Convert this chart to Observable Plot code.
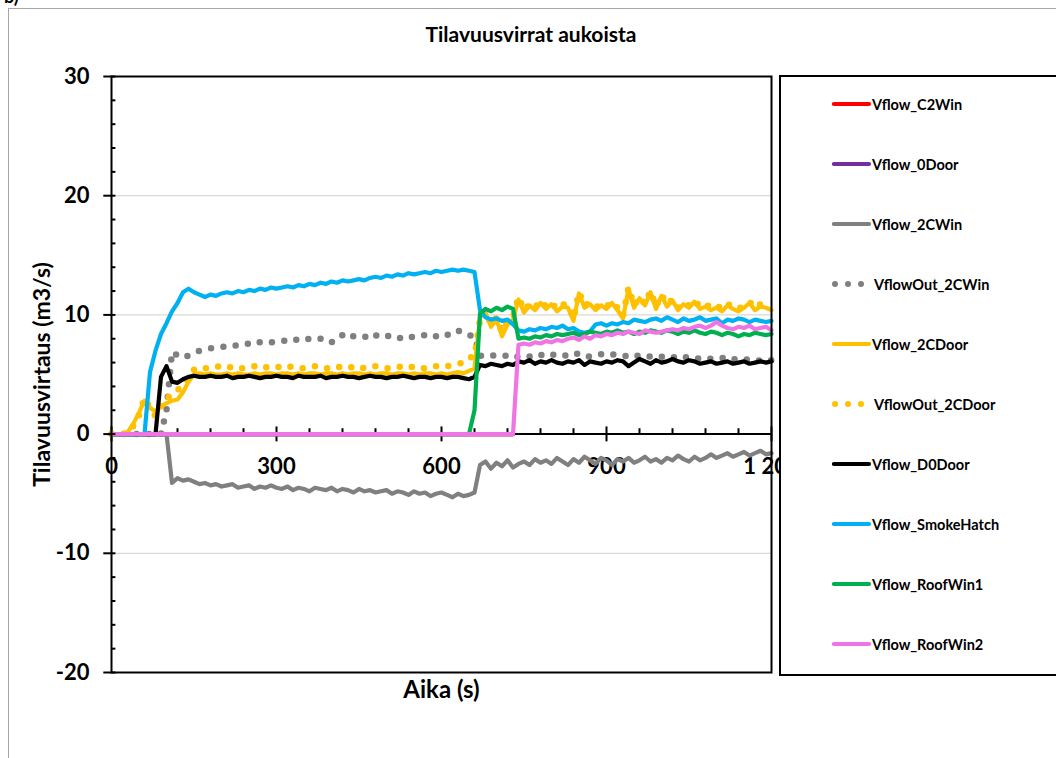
<!DOCTYPE html>
<html><head><meta charset="utf-8">
<script src="https://cdn.jsdelivr.net/npm/d3@7"></script>
<script src="https://cdn.jsdelivr.net/npm/@observablehq/plot@0.6"></script>
<style>
html,body{margin:0;padding:0;background:#fff;}
body{width:1056px;height:758px;overflow:hidden;position:relative;font-family:Lato,"Open Sans",sans-serif;}
#frame{position:absolute;left:8px;top:8px;width:1100px;height:800px;border:1px solid #a6a6a6;}
#tag{position:absolute;left:4px;top:-13px;font-size:18px;font-weight:bold;line-height:18px;}
#title{position:absolute;left:0;width:1062px;top:21px;text-align:center;font-weight:bold;font-size:21px;color:#000;}
#chart{position:absolute;left:0;top:60px;}
#legend{position:absolute;left:779px;top:75px;width:300px;height:601px;box-sizing:border-box;border:2px solid #000;background:#fff;}
.item{position:absolute;left:51px;height:20px;display:flex;align-items:center;font-weight:bold;font-size:14.5px;color:#000;white-space:nowrap;}
.item svg{display:block;}
</style></head><body>
<div id="frame"></div>
<div id="tag">b)</div>
<div id="title">Tilavuusvirrat aukoista</div>
<div id="chart"></div>
<div id="legend"></div>
<script>
// ---- data ----
const time = [0,10,20,30,40,50,60,70,80,90,
 100,110,120,130,140,150,160,170,180,190,
 200,210,220,230,240,250,260,270,280,290,
 300,310,320,330,340,350,360,370,380,390,
 400,410,420,430,440,450,460,470,480,490,
 500,510,520,530,540,550,560,570,580,590,
 600,610,620,630,640,650,660,670,680,690,
 700,710,720,730,740,750,760,770,780,790,
 800,810,820,830,840,850,860,870,880,890,
 900,910,920,930,940,950,960,970,980,990,
 1000,1010,1020,1030,1040,1050,1060,1070,1080,1090,
 1100,1110,1120,1130,1140,1150,1160,1170,1180,1190,
 1200];
const timeZero = [0, 730];

const vC2Win = [0, 0];
const v0Door = [0, 0];
const v2CWin = [0,0,0,0,0,0,0,0,0,0,
 0,-4.1,-3.7,-3.9,-3.8,-4.0,-4.2,-4.1,-4.3,-4.2,
 -4.4,-4.3,-4.2,-4.5,-4.4,-4.3,-4.6,-4.4,-4.5,-4.3,
 -4.5,-4.6,-4.4,-4.7,-4.5,-4.6,-4.8,-4.5,-4.6,-4.7,
 -4.5,-4.8,-4.6,-4.7,-4.9,-4.6,-4.8,-4.7,-4.9,-4.8,
 -4.7,-5.0,-4.8,-4.9,-5.1,-4.8,-5.0,-4.9,-5.2,-5.0,
 -4.9,-5.1,-5.3,-5.0,-5.2,-5.1,-4.9,-2.6,-2.3,-2.9,
 -2.4,-2.7,-2.2,-2.8,-2.5,-2.3,-2.6,-2.1,-2.4,-2.2,
 -2.5,-2.0,-2.3,-2.6,-2.1,-2.4,-1.9,-2.2,-2.5,-2.0,
 -2.2,-2.6,-2.1,-2.3,-2.0,-2.4,-2.2,-1.9,-2.3,-2.1,
 -2.4,-2.0,-2.2,-1.8,-2.1,-2.3,-1.9,-2.2,-2.0,-1.7,
 -2.0,-1.8,-1.6,-1.9,-1.7,-1.5,-1.8,-1.6,-1.4,-1.7,
 -1.6];
const vOut2CWin = [0,0,0,0,0,0,0,0,0,0,
 2.0,6.9,6.6,6.4,6.6,6.8,7.0,7.1,7.2,7.3,
 7.3,7.4,7.5,7.4,7.5,7.6,7.8,7.7,7.8,7.7,
 7.7,7.8,7.9,7.8,8.0,7.9,8.0,8.1,8.0,8.0,
 7.7,7.9,8.3,8.5,8.2,8.1,8.2,8.0,8.3,8.1,
 8.2,8.3,8.1,8.0,8.2,8.1,8.2,8.3,8.4,8.2,
 8.4,8.3,8.6,8.7,8.4,8.3,8.2,6.6,6.5,6.6,
 6.6,6.5,6.6,6.4,6.5,6.6,6.5,6.7,6.6,6.8,
 6.7,6.6,6.5,6.7,6.6,6.8,6.6,6.5,6.6,6.7,
 6.8,6.7,6.6,6.5,6.6,6.7,6.5,6.6,6.5,6.4,
 6.5,6.4,6.5,6.3,6.4,6.5,6.4,6.3,6.4,6.3,
 6.3,6.4,6.2,6.3,6.2,6.3,6.2,6.1,6.2,6.3,
 6.2];
const v2CDoor = [0,0,0,0.2,0.9,1.8,2.8,2.2,1.9,2.3,
 2.6,2.8,2.9,3.5,4.4,5.0,5.1,5.0,5.1,5.0,
 5.0,5.1,5.0,5.1,5.0,5.0,5.1,5.0,5.1,5.1,
 5.0,5.1,5.1,5.0,5.1,5.0,5.1,5.1,5.0,5.1,
 5.1,5.0,5.1,5.0,5.1,5.1,5.0,5.1,5.0,5.1,
 5.1,5.0,5.1,5.1,5.0,5.1,5.0,5.1,5.1,5.0,
 5.1,5.0,5.1,5.2,5.1,5.3,5.5,9.8,10.2,9.0,
 9.6,8.2,9.2,9.6,11.3,10.2,10.8,10.4,11.0,10.5,
 10.9,10.3,10.7,10.6,9.5,11.8,10.6,10.9,10.4,10.8,
 10.5,11.0,10.4,9.7,12.2,10.6,11.4,10.8,11.9,10.5,
 11.6,10.7,11.2,10.4,10.9,10.6,11.1,10.5,10.7,10.4,
 10.6,10.3,10.8,10.5,10.3,10.6,11.0,10.4,10.7,10.6,
 10.4];
const vOut2CDoor = [0,0,0,0.1,0.7,1.6,3.0,2.2,1.5,2.4,
 3.0,3.3,3.7,4.1,4.8,5.4,5.6,5.5,5.6,5.7,
 5.6,5.5,5.7,5.6,5.5,5.6,5.7,5.5,5.6,5.6,
 5.7,5.5,5.6,5.7,5.6,5.5,5.6,5.7,5.6,5.5,
 5.6,5.7,5.5,5.6,5.6,5.7,5.5,5.6,5.7,5.6,
 5.5,5.6,5.7,5.6,5.5,5.7,5.6,5.5,5.6,5.7,
 5.6,5.7,5.8,5.9,6.0,6.4,6.5,9.6,10.4,9.2,
 9.8,8.6,9.4,9.8,11.5,10.4,10.9,10.6,11.2,10.7,
 11.0,10.5,10.9,10.8,9.7,11.9,10.8,11.0,10.6,10.9,
 10.7,11.1,10.6,9.9,12.3,10.8,11.5,10.9,12.0,10.7,
 11.7,10.9,11.3,10.6,11.0,10.8,11.2,10.7,10.9,10.6,
 10.8,10.5,10.9,10.7,10.5,10.8,11.1,10.6,10.9,10.8,
 10.6];
const vD0Door = [0,0,0,0,0,0,0,0,0,4.8,
 5.7,4.4,4.3,4.6,4.8,4.9,4.8,4.8,4.9,4.8,
 4.8,4.9,4.7,4.8,4.8,4.9,4.8,4.7,4.8,4.8,
 4.9,4.8,4.8,4.7,4.9,4.8,4.8,4.8,4.9,4.7,
 4.8,4.8,4.9,4.8,4.8,4.7,4.8,4.9,4.8,4.8,
 4.7,4.8,4.8,4.9,4.8,4.7,4.8,4.8,4.7,4.8,
 4.8,4.7,4.8,4.8,4.7,4.6,4.8,5.8,5.7,5.9,
 5.8,5.7,5.9,5.8,6.1,6.0,6.2,5.9,6.1,6.0,
 6.2,6.0,5.9,6.1,6.0,6.2,5.8,6.1,6.0,5.9,
 6.1,6.0,6.2,6.1,5.7,6.0,6.3,6.1,5.9,6.2,
 6.0,6.1,6.3,6.1,6.0,6.2,6.1,5.9,6.0,6.1,
 5.9,6.0,6.1,5.9,6.0,6.1,5.9,6.0,6.1,6.0,
 6.1];
const vSmokeHatch = [0,0,0,0,0,0,0,5.2,7.0,8.4,
 9.3,10.3,11.0,11.9,12.2,11.9,11.7,11.5,11.7,11.6,
 11.8,11.9,11.8,12.0,11.9,12.1,12.0,12.2,12.1,12.3,
 12.2,12.3,12.4,12.3,12.5,12.4,12.6,12.5,12.7,12.6,
 12.8,12.7,12.9,12.8,12.9,13.0,12.9,13.1,13.2,13.1,
 13.3,13.2,13.4,13.3,13.5,13.4,13.5,13.6,13.5,13.7,
 13.6,13.7,13.8,13.7,13.8,13.7,13.6,10.4,9.8,9.6,
 9.7,9.5,9.6,9.2,8.7,8.6,8.8,8.7,8.9,8.8,
 9.0,8.9,9.1,8.8,8.9,8.6,8.5,8.6,9.2,9.3,
 9.1,9.3,9.2,9.4,9.3,9.6,9.5,9.4,9.6,9.7,
 9.5,9.8,9.6,9.4,9.7,9.5,9.6,9.8,9.5,9.6,
 9.7,9.3,9.6,9.5,9.7,9.6,9.4,9.6,9.5,9.4,
 9.5];
const vRoofWin1 = [0,0,0,0,0,0,0,0,0,0,
 0,0,0,0,0,0,0,0,0,0,
 0,0,0,0,0,0,0,0,0,0,
 0,0,0,0,0,0,0,0,0,0,
 0,0,0,0,0,0,0,0,0,0,
 0,0,0,0,0,0,0,0,0,0,
 0,0,0,0,0,0,2.0,10.1,10.5,10.3,
 10.6,10.4,10.7,10.5,8.0,8.1,8.0,8.2,8.1,8.3,
 8.2,8.4,8.3,8.4,8.5,8.3,8.4,8.6,8.5,8.4,
 8.6,8.5,8.7,8.5,8.6,8.4,8.6,8.5,8.7,8.6,
 8.5,8.7,8.6,8.4,8.6,8.5,8.7,8.5,8.4,8.6,
 8.5,8.3,8.5,8.4,8.2,8.4,8.3,8.5,8.4,8.3,
 8.4];
const vRoofWin2 = [0,0,0,0,0,0,0,0,0,0,
 0,0,0,0,0,0,0,0,0,0,
 0,0,0,0,0,0,0,0,0,0,
 0,0,0,0,0,0,0,0,0,0,
 0,0,0,0,0,0,0,0,0,0,
 0,0,0,0,0,0,0,0,0,0,
 0,0,0,0,0,0,0,0,0,0,
 0,0,0,0,7.5,7.6,7.5,7.7,7.6,7.8,
 7.7,7.9,7.8,8.0,8.1,7.9,8.2,8.0,8.3,8.2,
 8.4,8.3,8.5,8.4,8.6,8.5,8.4,8.7,8.6,8.5,
 8.6,8.7,8.8,8.7,8.9,8.8,9.0,9.1,8.9,9.1,
 9.4,9.1,8.9,8.8,9.0,8.9,9.1,8.8,8.9,9.0,
 8.7];

const seriesNames = ["Vflow_C2Win","Vflow_0Door","Vflow_2CWin","VflowOut_2CWin","Vflow_2CDoor","VflowOut_2CDoor","Vflow_D0Door","Vflow_SmokeHatch","Vflow_RoofWin1","Vflow_RoofWin2"];
const seriesTimes = [timeZero, timeZero, time, time, time, time, time, time, time, time];
const seriesValues = [vC2Win, v0Door, v2CWin, vOut2CWin, v2CDoor, vOut2CDoor, vD0Door, vSmokeHatch, vRoofWin1, vRoofWin2];
const seriesColors = ["#FF0000","#7030A0","#808080","#808080","#FFC000","#FFC000","#000000","#00B0F0","#00B050","#F075E4"];
const seriesDotted = [false,false,false,true,false,true,false,false,false,false];

const xTicks = [0, 300, 600, 900, 1200];
const xTickLabels = ["0", "300", "600", "900", "1 200"];
const xMinor = [60,120,180,240,360,420,480,540,660,720,780,840,960,1020,1080,1140];
const yTicks = [-20, -10, 0, 10, 20, 30];
const yTickLabels = ["-20", "-10", "0", "10", "20", "30"];
const yMinor = [-18,-16,-14,-12,-8,-6,-4,-2,2,4,6,8,12,14,16,18,22,24,26,28];

// ---- chart ----
const lineMarks = seriesNames.map((name, i) => {
  const rows = seriesTimes[i].map((t, j) => ({t, v: seriesValues[i][j], name}));
  return Plot.line(rows, {
    x: "t", y: "v",
    stroke: seriesColors[i],
    strokeWidth: seriesDotted[i] ? 6.5 : 4.2,
    strokeDasharray: seriesDotted[i] ? "0,12.5" : null,
    strokeLinecap: "round", strokeLinejoin: "round"
  });
});

const xLab = xTicks.map((x, i) => ({x, label: xTickLabels[i]}));
const yLab = yTicks.map((y, i) => ({y, label: yTickLabels[i]}));

const chart = Plot.plot({
  width: 800, height: 652,
  marginLeft: 111, marginRight: 29, marginTop: 16, marginBottom: 40,
  x: {domain: [0, 1200], axis: null},
  y: {domain: [-20, 30], axis: null},
  style: {fontFamily: "Lato, 'Open Sans', sans-serif", overflow: "visible", background: "transparent", color: "#000"},
  marks: [
    Plot.ruleY(yTicks, {stroke: "#d9d9d9", strokeWidth: 1.2}),
    Plot.ruleY([0], {stroke: "#000", strokeWidth: 2}),
    Plot.ruleX(xMinor, {y1: 0, y2: 0.45, stroke: "#000", strokeWidth: 2}),
    Plot.ruleX(xTicks, {y1: -0.65, y2: 0.6, stroke: "#000", strokeWidth: 2}),
    Plot.text(xLab, {x: "x", y: 0, text: "label", dy: 33, fontSize: 22, fontWeight: "bold", fill: "#000"}),
    ...lineMarks,
    Plot.frame({stroke: "#000", strokeWidth: 2}),
    Plot.ruleY(yMinor, {x1: 0, x2: 8, stroke: "#000", strokeWidth: 2}),
    Plot.ruleY(yTicks, {x1: -14, x2: 8, stroke: "#000", strokeWidth: 2}),
    Plot.text(yLab, {x: 0, y: "y", text: "label", textAnchor: "end", dx: -22, fontSize: 22, fontWeight: "bold", fill: "#000"}),
    Plot.text(["Tilavuusvirtaus (m3/s)"], {frameAnchor: "left", textAnchor: "middle", lineAnchor: "middle", rotate: -90, dx: -69, fontSize: 23, fontWeight: "bold", fill: "#000"}),
    Plot.text(["Aika (s)"], {frameAnchor: "bottom", textAnchor: "middle", lineAnchor: "middle", dy: 18, fontSize: 24, fontWeight: "bold", fill: "#000"})
  ]
});
document.getElementById("chart").appendChild(chart);

// ---- legend ----
const legend = document.getElementById("legend");
seriesNames.forEach((name, i) => {
  const item = document.createElement("div");
  item.className = "item";
  item.style.top = (17 + 60 * i) + "px";
  const ns = "http://www.w3.org/2000/svg";
  const svg = document.createElementNS(ns, "svg");
  svg.setAttribute("width", seriesDotted[i] ? 42 : 40);
  svg.setAttribute("height", 10);
  if (seriesDotted[i]) {
    [3, 16, 29].forEach(cx => {
      const c = document.createElementNS(ns, "circle");
      c.setAttribute("cx", cx); c.setAttribute("cy", 5); c.setAttribute("r", 3);
      c.setAttribute("fill", seriesColors[i]);
      svg.appendChild(c);
    });
  } else {
    const l = document.createElementNS(ns, "line");
    l.setAttribute("x1", 2); l.setAttribute("x2", 37); l.setAttribute("y1", 5); l.setAttribute("y2", 5);
    l.setAttribute("stroke", seriesColors[i]); l.setAttribute("stroke-width", 4.2);
    l.setAttribute("stroke-linecap", "round");
    svg.appendChild(l);
  }
  item.appendChild(svg);
  const span = document.createElement("span");
  span.textContent = name;
  item.appendChild(span);
  legend.appendChild(item);
});
</script>
</body></html>
